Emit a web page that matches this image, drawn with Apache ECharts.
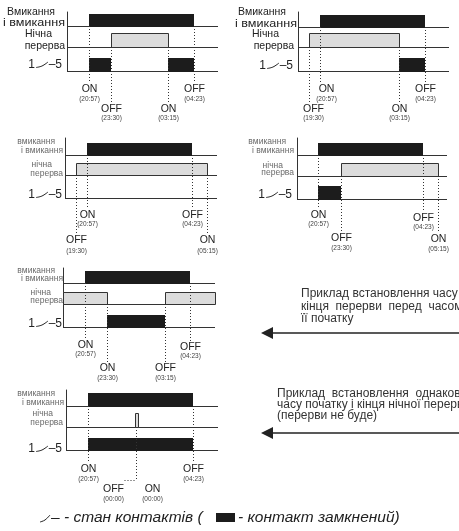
<!DOCTYPE html>
<html><head><meta charset="utf-8">
<script src="https://cdn.jsdelivr.net/npm/echarts@6/dist/echarts.min.js"></script>
<style>html,body{margin:0;padding:0;background:#fff}#c{width:459px;height:531px}</style>
</head><body><div id="c"></div>
<script>
// Schematic time axis (the diagram is not drawn to scale)
const timeLabels = ['19:30', '20:57', '23:30', '00:00', '03:15', '04:23', '05:15'];
const timePos    = [10.5, 21.5, 44, 70, 101, 126.5, 141.5];
const AXIS_MAX = 151;

// bars: [from, to, row (0 = вмикання, 1 = нічна перерва, 2 = контакт 1-5), kind]
const bars1 = [['20:57','04:23',0,'on'], ['23:30','03:15',1,'break'], ['20:57','23:30',2,'on'], ['03:15','04:23',2,'on']];
const bars2 = [['20:57','04:23',0,'on'], ['19:30','03:15',1,'break'], ['03:15','04:23',2,'on']];
const bars3 = [['20:57','04:23',0,'on'], ['19:30','05:15',1,'break']];
const bars4 = [['20:57','04:23',0,'on'], ['23:30','05:15',1,'break'], ['20:57','23:30',2,'on']];
const bars5 = [['20:57','04:23',0,'on'], ['start','23:30',1,'break'], ['03:15','end',1,'break'], ['23:30','03:15',2,'on']];
const bars6 = [['20:57','04:23',0,'on'], ['00:00','00:00',1,'break'], ['20:57','04:23',2,'on']];

// events: [state, time, row the marker drops from, label level]
const events1 = [['ON','20:57',0,0], ['OFF','23:30',1,1], ['ON','03:15',1,1], ['OFF','04:23',0,0]];
const events2 = [['ON','20:57',0,0], ['OFF','19:30',1,1], ['ON','03:15',1,1], ['OFF','04:23',0,0]];
const events3 = [['ON','20:57',0,0], ['OFF','04:23',0,0], ['OFF','19:30',1,1], ['ON','05:15',1,1]];
const events4 = [['ON','20:57',0,0], ['OFF','23:30',1,1], ['OFF','04:23',0,0], ['ON','05:15',1,1]];
const events5 = [['ON','20:57',0,0], ['ON','23:30',1,1], ['OFF','03:15',1,1], ['OFF','04:23',0,0]];
const events6 = [['ON','20:57',0,0], ['OFF','04:23',0,0], ['OFF','00:00',1,1], ['ON','00:00',1,1]];

const rowTitlesBig = ['Вмикання', 'і вмикання', 'Нічна', 'перерва'];
const rowTitlesSmall = ['вмикання', 'і вмикання', 'нічна', 'перерва'];
const note5 = ['Приклад встановлення часу', 'кінця  перерви  перед  часом', 'її початку'];
const note6 = ['Приклад  встановлення  однакових', 'часу початку і кінця нічної перерви', '(перерви не буде)'];
const legendTexts = ['– - стан контактів (', '- контакт замкнений)'];

// ---------- layout (positions / sizes only) ----------
const layout = [
  {left:67, top:12, width:151, height:59, rows:[14,35,59], barH:[12,14,13], levels:[[77,87],[97,106]], dx:[0,0,0,0], dy:[0,0,0,0],
   big:true, titles:[[55,12],[65,23.5],[52,34],[65,46]], sw:[62,65]},
  {left:298, top:12, width:151, height:59, rows:[15,35,59], barH:[12,14,13], levels:[[77,87],[97,106]], dx:[6,4,0,0], dy:[0,0,0,0],
   big:true, titles:[[286,12],[297,24],[279,34],[294,46]], sw:[293,66]},
  {left:65, top:138, width:152, height:60, rows:[17,37,60], barH:[12,12,13], levels:[[77,86],[102,113]], dx:[0,0,0,0], dy:[0,0,0,0],
   big:false, titles:[[55,142],[63,151],[52,165],[63,173.5]], sw:[62,195]},
  {left:297, top:138, width:150, height:61, rows:[17,38,61], barH:[12,13,13], levels:[[77,86],[100,110]], dx:[0,0,0,0], dy:[0,0,3,1],
   big:false, titles:[[286,142],[294,150.5],[283,166],[294,173]], sw:[292,195]},
  {left:63, top:268, width:152, height:59, rows:[15,36,59], barH:[12,12,12], levels:[[77,86],[100,110]], dx:[0,0,0,0], dy:[0,0,0,2],
   big:false, titles:[[55,270.5],[63,279],[51,292.5],[63,300.5]], sw:[62,324]},
  {left:66, top:390, width:152, height:60, rows:[16,37,60], barH:[13,14,12], levels:[[79,89],[99,109]], dx:[0,0,-23,16], dy:[0,0,0,0],
   big:false, titles:[[55,394],[64,403],[53,414],[63,423]], sw:[62,449], joinY:90}
];
const panels = [
  {bars:bars1, events:events1}, {bars:bars2, events:events2}, {bars:bars3, events:events3},
  {bars:bars4, events:events4}, {bars:bars5, events:events5}, {bars:bars6, events:events6}
];

const FONT = '"Liberation Sans", Arial, sans-serif';
const posOf = t => t === 'start' ? 0 : t === 'end' ? AXIS_MAX : timePos[timeLabels.indexOf(t)];
const crisp = v => Math.round(v) + 0.5;

const grid = [], xAxis = [], yAxis = [], series = [];

panels.forEach((p, i) => {
  const L = layout[i];
  grid.push({left: L.left, top: L.top, width: L.width, height: L.height});
  xAxis.push({gridIndex: i, type: 'value', min: 0, max: AXIS_MAX, show: false});
  yAxis.push({gridIndex: i, type: 'value', min: 0, max: L.height, inverse: true,
    axisLine: {show: true, onZero: false, lineStyle: {color: '#333', width: 1}},
    axisTick: {show: false}, axisLabel: {show: false}, splitLine: {show: false}});

  // row baselines
  series.push({type: 'custom', xAxisIndex: i, yAxisIndex: i, silent: true, z: 1,
    data: [[0, 0], [1, 0], [2, 0]],
    renderItem: (params, api) => {
      const r = api.value(0);
      const a = api.coord([0, L.rows[r]]), b = api.coord([AXIS_MAX, L.rows[r]]);
      const y = crisp(a[1]);
      return {type: 'line', shape: {x1: a[0], y1: y, x2: b[0], y2: y}, style: {stroke: '#333', lineWidth: 1}};
    }});

  // bars
  series.push({type: 'custom', xAxisIndex: i, yAxisIndex: i, silent: true, z: 3,
    data: p.bars.map(b => [posOf(b[0]), posOf(b[1]), b[2], b[3] === 'break' ? 1 : 0]),
    renderItem: (params, api) => {
      const x0 = api.coord([api.value(0), 0])[0];
      const x1 = api.coord([api.value(1), 0])[0];
      const row = api.value(2), kind = api.value(3);
      const yb = Math.round(api.coord([0, L.rows[row]])[1]);
      const h = L.barH[row];
      let x = Math.round(x0), w = Math.round(x1) - x;
      if (w < 1) { x = Math.round(x0) - 1; w = 3; }
      if (kind === 1) {
        return {type: 'rect', shape: {x: x + 0.5, y: yb - h + 0.5, width: w, height: h},
          style: {fill: '#dcdcdc', stroke: '#333', lineWidth: 1}};
      }
      return {type: 'rect', shape: {x: x, y: yb - h, width: w, height: h + 1}, style: {fill: '#1c1c1c'}};
    }});

  // event markers + labels
  series.push({type: 'custom', xAxisIndex: i, yAxisIndex: i, silent: true, z: 4,
    data: p.events.map(e => [posOf(e[1]), e[2], e[3]]),
    renderItem: (params, api) => {
      const k = params.dataIndex;
      const ev = p.events[k];
      const x = crisp(api.coord([api.value(0), 0])[0]);
      const fromRow = api.value(1), level = api.value(2);
      const y0 = api.coord([0, L.rows[fromRow]])[1];
      const dy = L.dy[k] || 0, dx = L.dx[k] || 0;
      const ty = api.coord([0, L.levels[level][0] + dy])[1];
      const tty = api.coord([0, L.levels[level][1] + dy])[1];
      const children = [];
      if (L.joinY !== undefined && level === 1) {
        const jy = crisp(api.coord([0, L.joinY])[1]);
        children.push({type: 'line', shape: {x1: x, y1: y0, x2: x, y2: jy}, style: {stroke: '#333', lineWidth: 1, lineDash: [1, 2]}});
        if (dx < 0) children.push({type: 'line', shape: {x1: x + dx + 11, y1: jy, x2: x, y2: jy}, style: {stroke: '#333', lineWidth: 1, lineDash: [1, 2]}});
      } else {
        children.push({type: 'line', shape: {x1: x, y1: y0, x2: x, y2: ty - 6}, style: {stroke: '#333', lineWidth: 1, lineDash: [1, 2]}});
      }
      children.push({type: 'text', x: x + dx, y: ty,
        style: {text: ev[0], font: '10.5px ' + FONT, fill: '#222', align: 'center', verticalAlign: 'middle'}});
      children.push({type: 'text', x: x + dx, y: tty,
        style: {text: '(' + ev[1] + ')', font: '6.5px ' + FONT, fill: '#444', align: 'center', verticalAlign: 'middle'}});
      return {type: 'group', children};
    }});
});

// ---------- graphic texts ----------
const graphic = [];
function switchSym(xr, y, fs, color) {
  return [
    {type: 'text', x: xr - 27, y: y, style: {text: '1', font: fs + 'px ' + FONT, fill: color, align: 'right', verticalAlign: 'middle'}},
    {type: 'polyline', shape: {points: [[xr - 26, y + 2.5], [xr - 20, y + 1], [xr - 14, y - 3]], smooth: 0.4},
      style: {stroke: color, lineWidth: 1, fill: null}},
    {type: 'text', x: xr, y: y, style: {text: '–5', font: fs + 'px ' + FONT, fill: color, align: 'right', verticalAlign: 'middle'}}
  ];
}
layout.forEach((L, i) => {
  const titles = L.big ? rowTitlesBig : rowTitlesSmall;
  titles.forEach((t, j) => {
    const big = L.big;
    const el = {type: 'text', x: L.titles[j][0], y: L.titles[j][1],
      style: {text: t, font: (big ? 10.5 : 8.5) + 'px ' + FONT, fill: big ? '#222' : '#6a6a6a', align: 'right', verticalAlign: 'middle'}};
    if (big && j === 1) { el.scaleX = 1.2; }
    graphic.push(el);
  });
  switchSym(L.sw[0], L.sw[1], 12, '#222').forEach(g => graphic.push(g));
});

// notes with arrows
function note(lines, x, y0, step, ay) {
  lines.forEach((t, j) => graphic.push({type: 'text', x: x, y: y0 + j * step,
    style: {text: t, font: '12px ' + FONT, fill: '#333', align: 'left', verticalAlign: 'middle'}}));
  graphic.push({type: 'line', shape: {x1: 270, y1: ay, x2: 460, y2: ay}, style: {stroke: '#222', lineWidth: 1.5}});
  graphic.push({type: 'polygon', shape: {points: [[261, ay], [273, ay - 6], [273, ay + 6]]}, style: {fill: '#222'}});
}
note(note5, 301, 294, 12.5, 333);
note(note6, 277, 394, 11, 433);

// legend line
graphic.push({type: 'polyline', shape: {points: [[40, 522], [45, 520], [50, 515]], smooth: 0.4}, style: {stroke: '#222', lineWidth: 1, fill: null}});
graphic.push({type: 'text', x: 51, y: 518, style: {text: legendTexts[0], font: 'italic 15.5px ' + FONT, fill: '#222', align: 'left', verticalAlign: 'middle'}});
graphic.push({type: 'rect', shape: {x: 216, y: 513, width: 19, height: 9}, style: {fill: '#1c1c1c'}});
graphic.push({type: 'text', x: 238, y: 518, style: {text: legendTexts[1], font: 'italic 15.5px ' + FONT, fill: '#222', align: 'left', verticalAlign: 'middle'}});

const chart = echarts.init(document.getElementById('c'));
chart.setOption({
  backgroundColor: '#fff',
  animation: false,
  grid, xAxis, yAxis, series, graphic
});
</script></body></html>
